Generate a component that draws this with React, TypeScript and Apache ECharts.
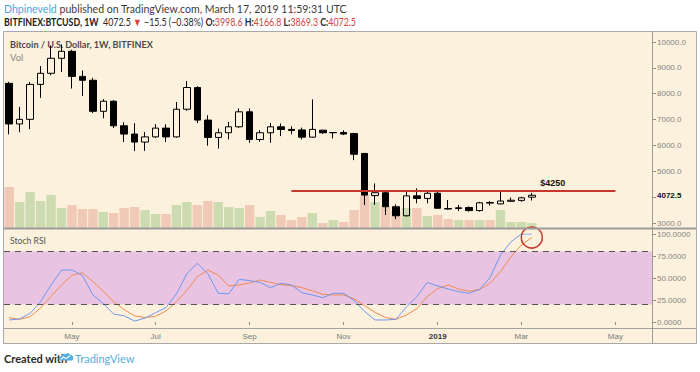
import React, { useEffect, useRef } from "react";
import * as echarts from "echarts";

// ---------- data ----------
const START = Date.UTC(2018, 2, 26); // Monday, week of Mar 26 2018
const WEEK_COUNT = 62; // bars + empty future space up to the right edge
const weeks: string[] = Array.from({ length: WEEK_COUNT }, (_, i) =>
  new Date(START + i * 7 * 86400000).toISOString().slice(0, 10)
);

const tickIndex = [6, 14, 23, 32, 41, 49, 58];
const tickLabels = ["May", "Jul", "Sep", "Nov", "2019", "Mar", "May"];

const opens = [8400, 6830, 7010, 8360, 8790, 9370, 9640, 8670, 8520, 7320, 7710, 6760, 6440, 6130, 6330, 6670, 6330, 7400, 8240, 6980, 6310, 6490, 6720, 7300, 6230, 6490, 6720, 6620, 6600, 6320, 6590, 6490, 6500, 6460, 5690, 4060, 4170, 3630, 3280, 4050, 3950, 4150, 3560, 3560, 3600, 3480, 3790, 3740, 3840, 3875, 3998.6];
const closes = [6830, 7010, 8360, 8790, 9370, 9640, 8670, 8520, 7320, 7710, 6760, 6440, 6130, 6330, 6670, 6330, 7400, 8240, 6980, 6310, 6490, 6720, 7300, 6230, 6490, 6720, 6620, 6580, 6320, 6620, 6490, 6500, 6440, 5660, 4080, 4170, 3630, 3280, 4050, 3950, 4150, 3570, 3540, 3590, 3480, 3780, 3770, 3850, 3880, 3975, 4072.5];
const lows = [6430, 6510, 6630, 7840, 8710, 8840, 8200, 7910, 7250, 7050, 6670, 6130, 5780, 5790, 6290, 6130, 6300, 7340, 6870, 5990, 5880, 6230, 6680, 6100, 6140, 6100, 6360, 6430, 6230, 6300, 6450, 6270, 6400, 5430, 3700, 3700, 3310, 3150, 3250, 3760, 3760, 3560, 3520, 3460, 3440, 3440, 3670, 3720, 3820, 3820, 3869.3];
const highs = [8460, 7490, 8450, 9070, 9870, 9910, 9700, 8900, 8610, 7790, 7750, 6900, 6860, 6520, 6820, 6820, 7680, 8490, 8290, 7170, 6650, 6910, 7430, 7430, 6590, 6870, 6850, 6740, 6690, 7780, 6600, 6510, 6590, 6490, 5700, 4530, 4200, 3720, 4270, 4340, 4250, 4200, 3890, 3700, 3640, 3820, 3850, 4240, 3990, 4015, 4166.8];
// weekly volume, thousand BTC
const volumes = [205, 130, 180, 135, 165, 100, 115, 95, 95, 80, 75, 100, 105, 90, 70, 70, 115, 130, 115, 135, 130, 105, 100, 115, 55, 85, 65, 40, 55, 75, 25, 40, 30, 90, 165, 130, 110, 85, 100, 100, 60, 65, 45, 40, 40, 40, 40, 90, 30, 30, 25];
// Stoch RSI
const stochK = [2.3, 3.5, 9.8, 23, 42, 59, 59, 53, 31, 21, 9, 7, 1, 4.5, 10.5, 16.5, 32, 55, 66.7, 55, 32.6, 32, 48.5, 47, 45, 39, 44, 42, 33.3, 30.7, 27.6, 32.6, 32.6, 24.5, 12, 2.3, 2.3, 3, 17, 28.8, 45, 41, 37.5, 34.5, 32.6, 37, 50.4, 76, 91, 100, 100];
const stochD = [4.9, 3, 6, 16, 29, 42, 53, 56, 46, 35, 23, 14, 7, 5, 6.5, 12.5, 23, 36, 51.5, 59, 53.4, 41, 42, 44.5, 47.7, 45, 42.4, 41.3, 39.2, 35.5, 31.5, 30.7, 30.7, 26.5, 18.5, 11, 5.2, 3, 8, 15, 29, 38, 42, 37.5, 35, 37, 44, 57, 74, 87.5, 96];

const lastPrice = 4072.5;
const resistance = 4250;
const resistanceFrom = 27;
const resistanceTo = 58;
const resistanceLabelAt = 52;
const circleAt = 50;
const circleValue = 96;

// header segments: [text, color, bold]
const headerLine1: [string, string, boolean][] = [
  ["Dhpineveld", "#45a8dc", false],
  [" published on TradingView.com, March 17, 2019 11:59:31 UTC", "#3c3c3c", false],
];
const headerLine2: [string, string, boolean][] = [
  ["BITFINEX:BTCUSD, 1W", "#222222", true],
  ["  4072.5 ", "#2a2a2a", false],
  ["▼", "#d0453a", false],
  [" −15.5 (−0.38%) ", "#2a2a2a", false],
  ["O:", "#2a2a2a", true],
  ["3998.6", "#d0453a", false],
  [" H:", "#2a2a2a", true],
  ["4166.8", "#d0453a", false],
  [" L:", "#2a2a2a", true],
  ["3869.3", "#d0453a", false],
  [" C:", "#2a2a2a", true],
  ["4072.5", "#d0453a", false],
];

// ---------- styles ----------
const BG = "#fcf1dc";
const AXIS_FONT = "Liberation Sans, Arial, sans-serif";
const UI_FAMILY = "Lato, sans-serif";

const logoPath =
  "M3 12 C1 12 0 10 1 8.5 C1.5 7 3 6.5 4 7 C4.5 4.5 7 3 9.5 4 C11 2 14.5 2.5 15.5 5 C18 5 19.5 7 19 9 C19.5 11 18 12 16.5 12 Z";
echarts.graphic.registerShape("tvlogo", echarts.graphic.extendPath(logoPath, {}));

let measureCtx: CanvasRenderingContext2D | null = null;
function measure(text: string, bold: boolean, size: number) {
  if (!measureCtx) measureCtx = document.createElement("canvas").getContext("2d");
  if (!measureCtx) return text.length * size * 0.5;
  measureCtx.font = (bold ? "bold " : "") + size + "px " + UI_FAMILY;
  return measureCtx.measureText(text).width;
}

// a line of coloured segments, compressed horizontally to the width it has in the reference
function textLine(segs: [string, string, boolean][], x0: number, y: number, size: number, targetWidth: number) {
  let x = 0;
  const children = segs.map(([t, c, b]) => {
    const el = {
      type: "text",
      x,
      y: 0,
      style: {
        text: t,
        fill: c,
        fontSize: size,
        fontWeight: b ? "bold" : "normal",
        fontFamily: UI_FAMILY,
        verticalAlign: "middle",
      },
    };
    x += measure(t, b, size);
    return el;
  });
  const s = x > 0 ? Math.min(1, targetWidth / x) : 1;
  return { type: "group", x: x0, y, scaleX: s, children };
}

function buildOption() {
  const candles = opens.map((o, i) => [o, closes[i], lows[i], highs[i]]);
  const vols = volumes.map((v, i) => ({
    value: v,
    itemStyle: { color: closes[i] >= opens[i] ? "#cddcb0" : "#f1c9b7" },
  }));
  const isTick = (i: number) => tickIndex.indexOf(i) >= 0;

  return {
    animation: false,
    backgroundColor: "#ffffff",
    textStyle: { fontFamily: AXIS_FONT },
    grid: [
      { left: 4, width: 648, top: 42, height: 181 },
      { left: 4, width: 648, top: 32, height: 196 },
      { left: 4, width: 648, top: 234, height: 88 },
    ],
    xAxis: [
      { type: "category", data: weeks, gridIndex: 0, show: false },
      { type: "category", data: weeks, gridIndex: 1, show: false },
      {
        type: "category",
        data: weeks,
        gridIndex: 2,
        offset: 6,
        axisLine: { show: false },
        axisTick: {
          show: true,
          alignWithLabel: true,
          interval: (i: number) => isTick(i),
          length: 3,
          lineStyle: { color: "#8a8a8a" },
        },
        axisLabel: {
          interval: (i: number) => isTick(i),
          formatter: (_v: string, i: number) => {
            const k = tickIndex.indexOf(i);
            if (k < 0) return "";
            const t = tickLabels[k];
            return t === "2019" ? "{b|" + t + "}" : t;
          },
          fontSize: 8,
          color: "#7a7a7a",
          margin: 4,
          rich: { b: { fontWeight: "bold", color: "#333", fontSize: 8 } },
        },
        splitLine: { show: false },
      },
    ],
    yAxis: [
      {
        type: "value",
        gridIndex: 0,
        position: "right",
        min: 3000,
        max: 10000,
        interval: 1000,
        axisLine: { show: false },
        axisTick: { show: true, length: 4, lineStyle: { color: "#8a8a8a" } },
        axisLabel: {
          formatter: (v: number) => (v === 4000 ? "" : v.toFixed(1)),
          fontSize: 8,
          color: "#858585",
          margin: 5,
        },
        splitLine: { show: false },
      },
      { type: "value", gridIndex: 1, min: 0, max: 980, show: false },
      {
        type: "value",
        gridIndex: 2,
        position: "right",
        min: 0,
        max: 100,
        interval: 25,
        axisLine: { show: false },
        axisTick: { show: true, length: 4, lineStyle: { color: "#8a8a8a" } },
        axisLabel: {
          formatter: (v: number) => v.toFixed(4),
          fontSize: 8,
          color: "#858585",
          margin: 5,
        },
        splitLine: { show: false },
      },
    ],
    series: [
      {
        type: "bar",
        xAxisIndex: 1,
        yAxisIndex: 1,
        data: vols,
        barCategoryGap: "10%",
        silent: true,
      },
      {
        type: "candlestick",
        xAxisIndex: 0,
        yAxisIndex: 0,
        data: candles,
        barWidth: 7,
        itemStyle: {
          color: "rgba(0,0,0,0)",
          color0: "#000000",
          borderColor: "#000000",
          borderColor0: "#000000",
          borderWidth: 1,
        },
        markLine: {
          silent: true,
          symbol: "none",
          animation: false,
          data: [
            {
              yAxis: lastPrice,
              lineStyle: { color: "rgba(0,0,0,0)", width: 0 },
              label: {
                show: true,
                position: "end",
                distance: 5,
                formatter: String(lastPrice),
                color: "#111111",
                fontWeight: "bold",
                fontSize: 8,
                fontFamily: AXIS_FONT,
              },
            },
            [
              {
                coord: [weeks[resistanceFrom], resistance],
                lineStyle: { color: "#c8372d", width: 2, type: "solid" },
                label: { show: false },
              },
              { coord: [weeks[resistanceTo], resistance] },
            ],
          ],
        },
        markPoint: {
          silent: true,
          data: [
            {
              coord: [weeks[resistanceLabelAt], resistance],
              symbol: "circle",
              symbolSize: 0,
              label: {
                show: true,
                position: "top",
                distance: 3,
                formatter: "$" + resistance,
                color: "#111",
                fontWeight: "bold",
                fontSize: 9,
                fontFamily: AXIS_FONT,
              },
            },
          ],
        },
      },
      {
        type: "line",
        xAxisIndex: 2,
        yAxisIndex: 2,
        data: stochD,
        symbol: "none",
        lineStyle: { color: "#f08a50", width: 1 },
        markArea: {
          silent: true,
          itemStyle: { color: "#e8c4e2" },
          data: [[{ yAxis: 20 }, { yAxis: 80 }]],
        },
        markLine: {
          silent: true,
          symbol: "none",
          label: { show: false },
          lineStyle: { color: "#555", width: 1.2, type: [6, 5] },
          data: [{ yAxis: 80 }, { yAxis: 20 }],
        },
      },
      {
        type: "line",
        xAxisIndex: 2,
        yAxisIndex: 2,
        data: stochK,
        symbol: "none",
        lineStyle: { color: "#6f96ec", width: 1 },
        markPoint: {
          silent: true,
          data: [
            {
              coord: [weeks[circleAt], circleValue],
              symbol: "circle",
              symbolSize: 21,
              itemStyle: {
                color: "rgba(0,0,0,0)",
                borderColor: "#c8372d",
                borderWidth: 1.5,
              },
              label: { show: false },
            },
          ],
        },
      },
    ],
    graphic: [
      {
        type: "rect",
        z: -10,
        shape: { x: 3.5, y: 31.5, width: 693, height: 312 },
        style: { fill: BG, stroke: "#a9a9a9", lineWidth: 1 },
      },
      {
        type: "line",
        z: 100,
        shape: { x1: 4, y1: 228.5, x2: 696, y2: 228.5 },
        style: { stroke: "#9c9c9c", lineWidth: 2 },
      },
      {
        type: "line",
        z: 100,
        shape: { x1: 4, y1: 328.5, x2: 696, y2: 328.5 },
        style: { stroke: "#a3a3a3", lineWidth: 1 },
      },
      {
        type: "line",
        z: 100,
        shape: { x1: 652.5, y1: 31.5, x2: 652.5, y2: 343.5 },
        style: { stroke: "#9c9c9c", lineWidth: 1 },
      },
      textLine(headerLine1, 4, 8, 11, 343),
      textLine(headerLine2, 4, 21.5, 11, 352),
      textLine([["Bitcoin / U.S. Dollar, 1W, BITFINEX", "#4b4b4b", true]], 10, 44, 10, 143),
      {
        type: "text",
        x: 10,
        y: 57,
        style: {
          text: "Vol",
          fill: "#8a8a8a",
          fontSize: 9.5,
          fontFamily: UI_FAMILY,
          verticalAlign: "middle",
        },
      },
      textLine([["Stoch RSI", "#555555", false]], 10, 240, 10, 36),
      {
        type: "text",
        x: 4,
        y: 358.5,
        style: {
          text: "Created with",
          fill: "#2b2b2b",
          fontSize: 11,
          fontWeight: "bold",
          fontFamily: UI_FAMILY,
          verticalAlign: "middle",
        },
      },
      {
        type: "tvlogo",
        x: 58,
        y: 351,
        scaleX: 0.8,
        scaleY: 0.8,
        style: { fill: "#56acde" },
      },
      {
        type: "polyline",
        x: 58,
        y: 351,
        scaleX: 0.8,
        scaleY: 0.8,
        shape: { points: [[3.5, 10.5], [7, 7.5], [10, 9.5], [15, 6]] },
        style: { stroke: "#ffffff", lineWidth: 1.3, fill: "none" },
      },
      {
        type: "text",
        x: 75,
        y: 358.5,
        style: {
          text: "TradingView",
          fill: "#56acde",
          fontSize: 11,
          fontFamily: UI_FAMILY,
          verticalAlign: "middle",
        },
      },
    ],
  };
}

export default function App() {
  const ref = useRef<HTMLDivElement>(null);
  useEffect(() => {
    if (!ref.current) return;
    const chart = echarts.init(ref.current, null, { renderer: "svg" });
    chart.setOption(buildOption() as any);
    return () => chart.dispose();
  }, []);
  return (
    <div
      ref={ref}
      style={{ position: "absolute", left: 0, top: 0, width: 700, height: 372 }}
    />
  );
}
